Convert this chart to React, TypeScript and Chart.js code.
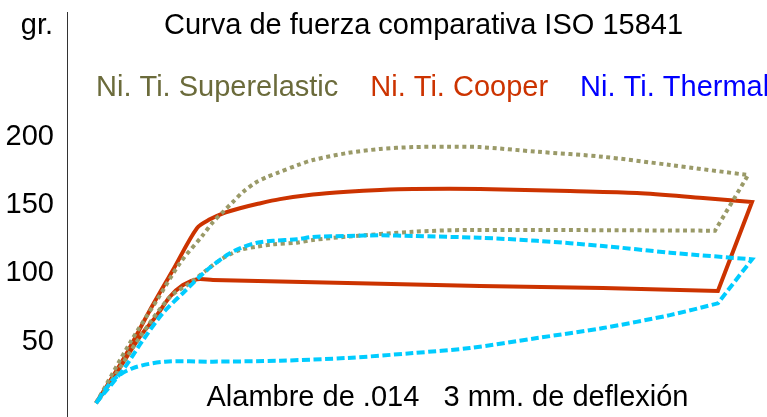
import React, { useEffect, useRef } from "react";
import { Chart, registerables } from "chart.js";

Chart.register(...registerables);

// ---- data (x: deflection in mm, y: force in gr.) ----
// loading branch, then unloading branch back to the origin (corner points are listed twice to keep them sharp)
const superX = [0, 0.155, 0.279, 0.384, 0.489, 0.535, 0.581, 0.626, 0.672, 0.727, 0.782, 0.828, 0.924, 0.992, 1.148, 1.299, 1.45, 1.605, 1.756, 2.017, 2.318, 2.625, 2.982, 2.982,
  2.831, 2.831, 1.71, 1.45, 1.148, 0.992, 0.919, 0.809, 0.736, 0.658, 0.581, 0.506, 0.43, 0.338, 0.201, 0.064, 0];
const superY = [5, 49.1, 80.5, 107.6, 128.1, 137.6, 145.0, 152.3, 159.6, 166.2, 170.6, 173.5, 179.4, 183.0, 188.1, 191.1, 192.5, 192.8, 192.5, 189.1, 185.4, 179.4, 172.0, 172.0,
  131.3, 131.3, 131.8, 130.5, 126.9, 124.5, 122.5, 121.3, 119.6, 117.1, 111.2, 102.5, 93.0, 82.7, 53.4, 19.8, 5];

const cooperX = [0, 0.123, 0.247, 0.352, 0.462, 0.521, 0.581, 0.658, 0.736, 0.841, 0.992, 1.148, 1.299, 1.45, 1.756, 2.168, 2.474, 2.776, 3.0, 3.0,
  2.844, 2.844, 2.318, 1.756, 1.148, 0.535, 0.462, 0.398, 0.338, 0.279, 0.201, 0.123, 0.064, 0];
const cooperY = [5, 36.6, 73.2, 102.5, 133.2, 139.6, 144.0, 147.7, 150.8, 154.4, 157.8, 159.8, 161.1, 161.8, 161.8, 160.3, 158.9, 155.2, 152.3, 152.3,
  87.1, 87.1, 89.3, 90.8, 93.0, 95.2, 95.7, 91.5, 82.9, 69.5, 53.7, 34.4, 19.8, 5];

const thermalX = [0, 0.123, 0.215, 0.306, 0.398, 0.508, 0.599, 0.658, 0.736, 0.809, 0.919, 0.992, 1.148, 1.299, 1.45, 1.756, 2.017, 2.318, 2.625, 3.0, 3.0,
  2.844, 2.844, 2.625, 2.318, 2.017, 1.71, 1.45, 1.148, 0.841, 0.535, 0.316, 0.169, 0.078, 0];
const thermalY = [5, 29.3, 51.2, 71.0, 85.7, 102.5, 113.5, 118.4, 122.5, 123.9, 125.0, 126.7, 127.4, 127.9, 127.4, 126.1, 123.9, 120.1, 115.2, 110.3, 110.3,
  78.1, 78.1, 69.5, 60.0, 52.7, 45.4, 41.7, 38.1, 36.1, 35.4, 35.4, 30.7, 22.0, 5];

const yTicks = [50, 100, 150, 200];
const seriesNames = ["Ni. Ti. Superelastic", "Ni. Ti. Cooper", "Ni. Ti. Thermal"];
const titleText = "Curva de fuerza comparativa ISO 15841";
const yUnitText = "gr.";
const xLabelText = "Alambre de .014   3 mm. de deflexión";

const FONT = '"Liberation Sans", Arial, Helvetica, sans-serif';
const legendColors = ["#6b6b3b", "#cc3300", "#0000ff"];

const toPoints = (xs: number[], ys: number[]) => xs.map((x, i) => ({ x, y: ys[i] }));

const textPlugin = {
  id: "textPlugin",
  afterDraw(chart: any) {
    const ctx = chart.ctx as CanvasRenderingContext2D;
    ctx.save();
    ctx.font = `29px ${FONT}`;
    ctx.textBaseline = "alphabetic";
    ctx.fillStyle = "#000";
    ctx.textAlign = "right";
    ctx.fillText(yUnitText, 53, 34);
    ctx.textAlign = "center";
    ctx.fillText(titleText, 423.5, 34);
    // legend
    ctx.textAlign = "left";
    let x = 96;
    seriesNames.forEach((name, i) => {
      ctx.fillStyle = legendColors[i];
      ctx.fillText(name, x, 96);
      x += ctx.measureText(name).width + 32;
    });
    ctx.fillStyle = "#000";
    ctx.textAlign = "center";
    ctx.fillText(xLabelText, 447.5, 406);
    ctx.restore();
  },
};

export default function App() {
  const ref = useRef<HTMLCanvasElement | null>(null);
  useEffect(() => {
    if (!ref.current) return;
    const chart = new Chart(ref.current, {
      type: "line",
      data: {
        datasets: [
          {
            label: seriesNames[0],
            data: toPoints(superX, superY),
            borderColor: "#9a9a68",
            borderWidth: 4,
            borderDash: [4, 3.6],
            borderCapStyle: "butt",
            pointRadius: 0,
            tension: 0.3,
            fill: false,
            order: 1,
          },
          {
            label: seriesNames[1],
            data: toPoints(cooperX, cooperY),
            borderColor: "#cc3300",
            borderWidth: 4,
            pointRadius: 0,
            tension: 0.3,
            fill: false,
            order: 2,
          },
          {
            label: seriesNames[2],
            data: toPoints(thermalX, thermalY),
            borderColor: "#00ccff",
            borderWidth: 4,
            borderDash: [8, 3.5],
            pointRadius: 0,
            tension: 0.3,
            fill: false,
            order: 0,
          },
        ],
      } as any,
      options: {
        animation: false,
        responsive: false,
        layout: { padding: { top: 12, left: 0, right: 0, bottom: 0 } },
        plugins: {
          legend: { display: false },
          title: { display: false },
          tooltip: { enabled: false },
        },
        scales: {
          x: {
            type: "linear",
            display: false,
            min: -0.1326,
            max: 3.0686,
          },
          y: {
            type: "linear",
            min: -5.12,
            max: 291.4,
            grid: { display: true, drawOnChartArea: false, drawTicks: false },
            border: { display: true, color: "#333333", width: 1 },
            ticks: {
              color: "#000",
              padding: 13,
              font: { family: FONT, size: 29 },
            },
            afterBuildTicks: (scale: any) => {
              scale.ticks = yTicks.map((v) => ({ value: v }));
            },
            afterFit: (scale: any) => {
              scale.width = 67;
              scale.paddingTop = 0;
              scale.paddingBottom = 0;
            },
          },
        },
      } as any,
      plugins: [textPlugin],
    });
    return () => chart.destroy();
  }, []);
  return (
    <div style={{ position: "absolute", left: 0, top: 0, width: 767, height: 417, background: "#fff" }}>
      <canvas ref={ref} width={767} height={417} style={{ width: 767, height: 417 }} />
    </div>
  );
}
